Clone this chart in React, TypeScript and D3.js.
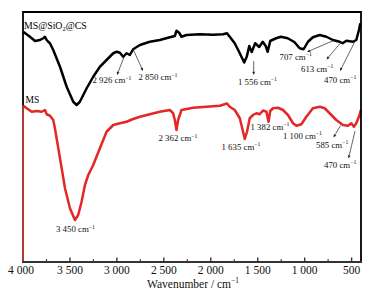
import React, { useEffect, useRef } from "react";
import * as d3 from "d3";

// ---- data ----
const csWave = [3998, 3926, 3872, 3819, 3784, 3766, 3748, 3731, 3713, 3678, 3606, 3535, 3465, 3429, 3394, 3322, 3252, 3181, 3110, 3039, 3003, 2968, 2933, 2897, 2862, 2827, 2755, 2649, 2543, 2436, 2383, 2365, 2337, 2312, 2259, 2117, 1976, 1869, 1827, 1798, 1745, 1691, 1644, 1617, 1590, 1564, 1527, 1484, 1447, 1415, 1394, 1367, 1305, 1252, 1181, 1110, 1053, 1011, 965, 912, 840, 769, 699, 628, 596, 556, 486, 450, 422, 407];
const csT = [92.1, 90.1, 88.4, 88.8, 89.5, 90.1, 88.8, 88.1, 87.5, 84.8, 78.1, 70.1, 64.1, 62.8, 64.1, 69.5, 74.1, 78.1, 80.8, 83.5, 84.1, 83.7, 82.1, 83.5, 82.8, 85.1, 86.8, 88.1, 88.8, 89.9, 90.4, 92.5, 91.7, 90.1, 90.8, 91.1, 90.9, 91.1, 91.5, 90.1, 87.5, 83.5, 79.8, 82.1, 86.4, 84.0, 87.5, 86.0, 88.1, 86.4, 84.1, 88.4, 89.5, 90.1, 89.5, 88.0, 85.5, 85.1, 88.1, 89.9, 90.8, 90.1, 88.8, 88.1, 87.5, 88.5, 88.1, 88.8, 92.8, 95.5];

const msWave = [3997, 3961, 3907, 3854, 3801, 3766, 3748, 3713, 3678, 3660, 3624, 3588, 3553, 3500, 3447, 3412, 3376, 3340, 3305, 3252, 3181, 3110, 3039, 2968, 2897, 2827, 2755, 2649, 2543, 2436, 2401, 2383, 2365, 2348, 2312, 2188, 2046, 1904, 1827, 1798, 1745, 1691, 1656, 1638, 1614, 1585, 1550, 1514, 1479, 1444, 1407, 1385, 1367, 1337, 1284, 1231, 1178, 1124, 1088, 1035, 982, 912, 840, 787, 734, 663, 593, 539, 503, 476, 450, 415, 402];
const msT = [62.5, 61.5, 60.1, 60.4, 60.1, 60.8, 59.1, 58.5, 56.8, 53.5, 45.5, 37.5, 29.5, 21.5, 16.8, 18.8, 24.1, 30.8, 34.8, 38.8, 45.5, 52.1, 54.8, 55.5, 56.1, 57.2, 58.1, 59.1, 60.1, 60.8, 59.5, 56.8, 52.8, 56.8, 60.8, 61.7, 62.1, 62.5, 63.4, 62.1, 60.8, 57.5, 52.1, 49.2, 52.1, 57.5, 58.8, 59.5, 59.1, 60.6, 60.1, 56.1, 60.4, 61.5, 61.7, 60.8, 58.8, 55.5, 54.5, 55.1, 58.1, 61.5, 62.1, 61.5, 59.5, 56.8, 54.8, 54.5, 55.5, 54.1, 55.5, 58.8, 60.8];

const majorTicks = [3500, 3000, 2500, 2000, 1500, 1000, 500];
const tickLabels = ["4 000", "3 500", "3 000", "2 500", "2 000", "1 500", "1 000", "500"];
const tickLabelValues = [4000, 3500, 3000, 2500, 2000, 1500, 1000, 500];
const minorTicks = [3750, 3250, 2750, 2250, 1750, 1250, 750];

const seriesNames = ["MS@SiO", "MS"];
const peakLabels = ["2 926", "2 850", "1 556", "707", "613", "470", "2 362", "1 635", "1 382", "1 100", "585", "470", "3 450"];

// ---- layout ----
const W = 388, H = 296;
const L = 23, R = 361, T = 12, B = 262;
const serif = "'Liberation Serif', 'Times New Roman', serif";
const RED = "#e32626";

type Ann = { i: number; x: number; y: number; arrow?: [number, number, number, number] };
const anns: Ann[] = [
  { i: 0, x: 92.5, y: 83, arrow: [124, 57, 117, 75] },
  { i: 1, x: 138.5, y: 80, arrow: [133, 49, 143, 71] },
  { i: 2, x: 238, y: 84.5, arrow: [253.7, 61, 253.7, 75] },
  { i: 3, x: 279.5, y: 59.5, arrow: [334.7, 40, 307, 52] },
  { i: 4, x: 301, y: 71.5, arrow: [341.3, 42, 326.5, 59.5] },
  { i: 5, x: 324, y: 82.5, arrow: [354.7, 42, 340, 71] },
  { i: 6, x: 158.5, y: 141 },
  { i: 7, x: 221.5, y: 149.5 },
  { i: 8, x: 250.5, y: 129.5 },
  { i: 9, x: 283, y: 138.5 },
  { i: 10, x: 316, y: 147.5, arrow: [340.5, 125.5, 333.5, 137.5] },
  { i: 11, x: 324, y: 167.5, arrow: [355, 131, 348.5, 158.5] },
  { i: 12, x: 56, y: 232 },
];

export default function App() {
  const ref = useRef<SVGSVGElement | null>(null);

  useEffect(() => {
    const svg = d3.select(ref.current);
    svg.selectAll("*").remove();

    const x = d3.scaleLinear().domain([4000, 400]).range([L, R]).clamp(true);
    const y = d3.scaleLinear().domain([0, 100]).range([B, T]);
    const line = d3
      .line<[number, number]>()
      .x((d) => x(d[0]))
      .y((d) => y(d[1]));
    const cs = csWave.map((w, i) => [w, csT[i]] as [number, number]);
    const ms = msWave.map((w, i) => [w, msT[i]] as [number, number]);
    const yMs0 = y(msT[0]);

    svg.append("rect").attr("width", W).attr("height", H).attr("fill", "#fff");

    // curves
    svg.append("path").attr("d", line(cs) || "").attr("fill", "none").attr("stroke", "#000")
      .attr("stroke-width", 2.5).attr("stroke-linejoin", "round");
    svg.append("path").attr("d", line(ms) || "").attr("fill", "none").attr("stroke", RED)
      .attr("stroke-width", 2.5).attr("stroke-linejoin", "round");

    // frame
    const frame = svg.append("g");
    frame.append("path")
      .attr("d", `M${L},${yMs0}L${L},${T}L${R},${T}L${R},${B}`)
      .attr("fill", "none").attr("stroke", "#000").attr("stroke-width", 1.8);
    frame.append("path")
      .attr("d", `M${L},${yMs0}L${L},${B}`)
      .attr("fill", "none").attr("stroke", "#b02020").attr("stroke-width", 1.8);

    // bottom axis
    svg.append("path").attr("d", `M${L - 1},${B}L${R + 1},${B}`)
      .attr("stroke", "#333").attr("stroke-width", 2).attr("fill", "none");
    svg.selectAll("line.maj").data(majorTicks).enter().append("line")
      .attr("x1", (d) => x(d)).attr("x2", (d) => x(d)).attr("y1", B).attr("y2", B - 4.5)
      .attr("stroke", "#333").attr("stroke-width", 1.4);
    svg.selectAll("line.min").data(minorTicks).enter().append("line")
      .attr("x1", (d) => x(d)).attr("x2", (d) => x(d)).attr("y1", B).attr("y2", B - 2.8)
      .attr("stroke", "#333").attr("stroke-width", 1.2);

    const tg = svg.append("g").attr("font-family", serif);
    tickLabelValues.forEach((t, i) => {
      tg.append("text").attr("x", x(t) - (t === 4000 ? 2 : 0)).attr("y", 274)
        .attr("font-size", 11.5).attr("text-anchor", "middle").attr("fill", "#111")
        .text(tickLabels[i]);
    });
    const xt = tg.append("text").attr("x", 193).attr("y", 287.5).attr("font-size", 11.5)
      .attr("text-anchor", "middle").attr("fill", "#111");
    xt.append("tspan").text("Wavenumber / cm");
    xt.append("tspan").attr("dy", -4.5).attr("font-size", 7.5).text("−1");

    const s1 = tg.append("text").attr("x", 24).attr("y", 28.5).attr("font-size", 9.8).attr("fill", "#000");
    s1.append("tspan").text(seriesNames[0]);
    s1.append("tspan").attr("dy", 2).attr("font-size", 6.5).text("2");
    s1.append("tspan").attr("dy", -2).text("@CS");
    tg.append("text").attr("x", 25.5).attr("y", 103).attr("font-size", 9.5).attr("fill", "#000")
      .text(seriesNames[1]);

    anns.forEach((a) => {
      const t = tg.append("text").attr("x", a.x).attr("y", a.y).attr("font-size", 8.8).attr("fill", "#111");
      t.append("tspan").text(`${peakLabels[a.i]} cm`);
      t.append("tspan").attr("dy", -3.5).attr("font-size", 5.8).text("−1");
      if (a.arrow) {
        const [x1, y1, x2, y2] = a.arrow;
        const ang = Math.atan2(y2 - y1, x2 - x1);
        const len = 3.2, wid = 1.4;
        const bx = x2 - len * Math.cos(ang), by = y2 - len * Math.sin(ang);
        const px = -Math.sin(ang) * wid, py = Math.cos(ang) * wid;
        svg.append("line").attr("x1", x1).attr("y1", y1).attr("x2", bx).attr("y2", by)
          .attr("stroke", "#222").attr("stroke-width", 0.7);
        svg.append("path").attr("d", `M${x2},${y2}L${bx + px},${by + py}L${bx - px},${by - py}Z`)
          .attr("fill", "#222");
      }
    });
  }, []);

  return (
    <svg ref={ref} width={W} height={H} style={{ position: "absolute", left: 0, top: 0 }} />
  );
}
